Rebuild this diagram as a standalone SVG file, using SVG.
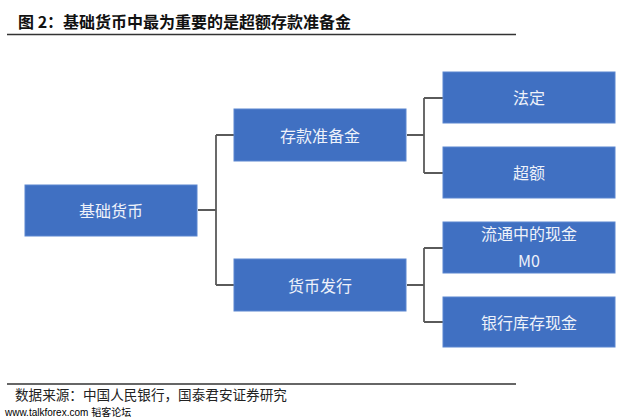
<svg xmlns="http://www.w3.org/2000/svg" width="640" height="419" viewBox="0 0 640 419">
<style>
.box{fill:#4070c2;stroke:#5a86d0;stroke-width:1}
.lbl{font-family:"Noto Sans CJK SC","Liberation Sans",sans-serif;font-size:16px;fill:#eef2fa;text-anchor:middle;dominant-baseline:central}
.conn{fill:none;stroke:#5a5a5a;stroke-width:1.8}
.rule{stroke:#333;stroke-width:1.5}
</style>
<rect width="640" height="419" fill="#ffffff"/>
<text x="18" y="28" font-family="Noto Sans CJK SC,sans-serif" font-size="16" font-weight="bold" fill="#111">图 2：基础货币中最为重要的是超额存款准备金</text>
<line class="rule" x1="7" y1="34.5" x2="516" y2="34.5"/>
<g id="connectors">
<path class="conn" d="M198,210 H216 M216,135 V285 M216,135 H234 M216,285 H234"/>
<path class="conn" d="M407,135 H424 M424,98 V173 M424,98 H443 M424,173 H443"/>
<path class="conn" d="M407,285 H424 M424,248 V322 M424,248 H443 M424,322 H443"/>
</g>
<g id="n-jichu"><rect class="box" x="25" y="185" width="172" height="51"/><text class="lbl" x="111" y="210">基础货币</text></g>
<g id="n-cunkuan"><rect class="box" x="234" y="109" width="172" height="52"/><text class="lbl" x="320" y="135">存款准备金</text></g>
<g id="n-huobi"><rect class="box" x="234" y="259" width="172" height="52"/><text class="lbl" x="320" y="285">货币发行</text></g>
<g id="n-fading"><rect class="box" x="443" y="72" width="172" height="51"/><text class="lbl" x="529" y="97">法定</text></g>
<g id="n-chaoe"><rect class="box" x="443" y="147" width="172" height="51"/><text class="lbl" x="529" y="172">超额</text></g>
<g id="n-m0"><rect class="box" x="443" y="222" width="172" height="51"/><text class="lbl" x="529" y="233">流通中的现金</text><text class="lbl" x="529" y="260">M0</text></g>
<g id="n-kucun"><rect class="box" x="443" y="297" width="172" height="50"/><text class="lbl" x="529" y="322">银行库存现金</text></g>
<line class="rule" x1="7" y1="384" x2="516" y2="384"/>
<text x="15" y="400" font-family="Noto Sans CJK SC,sans-serif" font-size="13.6" fill="#222">数据来源：中国人民银行，国泰君安证券研究</text>
<text x="5" y="416" font-family="Liberation Sans,Noto Sans CJK SC,sans-serif" font-size="10" fill="#000">www.talkforex.com 韬客论坛</text>
</svg>
